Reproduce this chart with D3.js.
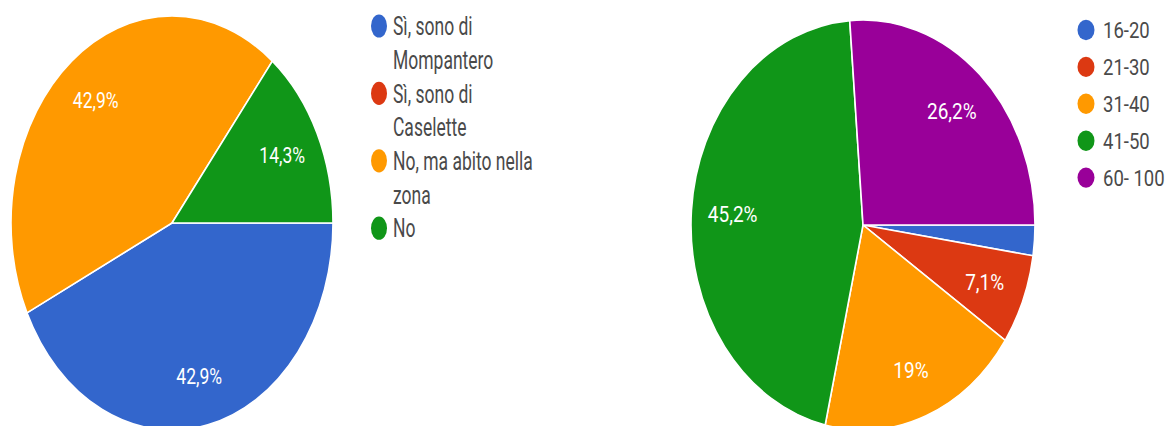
<!DOCTYPE html>
<html>
<head>
<meta charset="utf-8">
<script src="https://cdn.jsdelivr.net/npm/d3@7"></script>
<style>
  html, body { margin: 0; padding: 0; background: #fff; }
  svg { display: block; font-family: Roboto, "Noto Sans", Arial, sans-serif; }
</style>
</head>
<body>
<svg id="chart" width="1169" height="426"></svg>
<script>
// Residence question
const residenceCategories = [
  ["Sì, sono di", "Mompantero"],
  ["Sì, sono di", "Caselette"],
  ["No, ma abito nella", "zona"],
  ["No"]
];
const residenceValues = [42.9, 0, 42.9, 14.3];

// Age groups
const ageCategories = ["16-20", "21-30", "31-40", "41-50", "60- 100"];
const ageValues = [2.4, 7.1, 19, 45.2, 26.2];

const palette = ["#3366cc", "#dc3912", "#ff9900", "#109618", "#990099"];

const svg = d3.select("#chart");
const fmt = v => d3.format(".1f")(v).replace(/\.0$/, "").replace(".", ",") + "%";

function drawPie(values, opts) {
  const color = d3.scaleOrdinal().domain(d3.range(values.length)).range(palette);
  const pie = d3.pie().sort(null)
    .startAngle(Math.PI / 2).endAngle(Math.PI / 2 + 2 * Math.PI)
    .value(d => d);
  const arcs = pie(values);
  const arc = d3.arc().innerRadius(0).outerRadius(opts.rx);
  const labelArc = d3.arc().innerRadius(opts.rx * opts.labelFrac).outerRadius(opts.rx * opts.labelFrac);

  const g = svg.append("g")
    .attr("transform", `translate(${opts.cx},${opts.cy}) scale(1,${opts.ry / opts.rx})`);

  g.selectAll("path").data(arcs.filter(a => a.value > 0)).join("path")
    .attr("d", arc)
    .attr("fill", d => color(d.index))
    .attr("stroke", "#fff")
    .attr("stroke-width", 1.6)
    .attr("vector-effect", "non-scaling-stroke");

  g.selectAll("text").data(arcs.filter(a => a.value >= 5)).join("text")
    .attr("transform", d => `translate(${labelArc.centroid(d)})`)
    .attr("text-anchor", "middle")
    .attr("dy", "0.36em")
    .attr("fill", "#fff")
    .attr("font-size", opts.labelSize)
    .text(d => fmt(d.value));
}

function drawLegend(items, opts) {
  const g = svg.append("g")
    .attr("transform", `translate(${opts.x},${opts.y}) scale(1,${opts.sy})`);
  const step = opts.lineStep / opts.sy;
  let line = 0;
  items.forEach((lines, i) => {
    const item = g.append("g").attr("transform", `translate(0,${line * step})`);
    item.append("circle")
      .attr("cx", 0).attr("cy", 0).attr("r", opts.r)
      .attr("fill", palette[i]);
    item.selectAll("text").data(lines).join("text")
      .attr("x", opts.textDx)
      .attr("y", (d, k) => k * step)
      .attr("dy", "0.36em")
      .attr("fill", "#4a4a4a")
      .attr("font-size", opts.fontSize)
      .text(d => d);
    line += lines.length;
  });
}

drawPie(residenceValues, { cx: 172, cy: 223, rx: 161, ry: 207, labelFrac: 0.76, labelSize: 17.5 });
drawPie(ageValues, { cx: 863, cy: 225, rx: 172, ry: 205, labelFrac: 0.76, labelSize: 19 });

drawLegend(residenceCategories, { x: 379, y: 26, sy: 1.45, lineStep: 33.7, r: 8, textDx: 14, fontSize: 17.5 });
drawLegend(ageCategories.map(c => [c]), { x: 1086, y: 30, sy: 1.2, lineStep: 36.9, r: 8.5, textDx: 17, fontSize: 18.5 });
</script>
</body>
</html>
